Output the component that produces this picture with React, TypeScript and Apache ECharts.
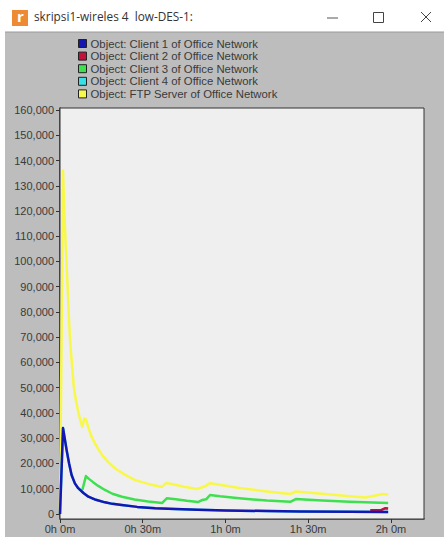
import React, { useEffect, useRef } from "react";
import * as echarts from "echarts";

const yTicks = [0, 10000, 20000, 30000, 40000, 50000, 60000, 70000, 80000, 90000, 100000, 110000, 120000, 130000, 140000, 150000, 160000];
const xTicks = [0, 30, 60, 90, 120];
const xTickLabels: Record<number, string> = { 0: "0h 0m", 30: "0h 30m", 60: "1h 0m", 90: "1h 30m", 120: "2h 0m" };

const ftpTimes = [0, 1.1, 1.5, 2, 2.8, 3.3, 3.7, 4.5, 5, 5.7, 6.7, 7.4, 8.1, 8.8, 9.4, 10.5, 11.5, 12.7, 14, 15.5, 17.5, 20, 23.5, 27, 32, 37, 38.5, 41, 45, 49.7, 51, 52.5, 54.4, 58, 65, 75, 83.5, 85.5, 95, 105, 110.7, 114, 117, 119];
const ftpValues = [0, 136000, 122000, 108000, 89000, 76000, 68000, 57000, 50500, 45500, 40000, 37000, 34500, 37800, 37500, 33500, 30500, 28000, 25500, 23000, 20500, 18000, 15600, 13500, 11900, 10700, 12300, 11800, 10800, 9900, 10400, 10900, 12200, 11600, 10300, 8900, 7900, 8900, 8000, 7000, 6500, 7200, 7900, 7700];

const client3Times = [8.1, 9.4, 10.5, 12, 14, 16.3, 19, 22.5, 27, 32, 37, 38.7, 42, 46, 50, 51.5, 53, 54.4, 58, 65, 75, 83.5, 85.5, 95, 105, 119];
const client3Values = [9500, 15000, 13900, 12600, 11000, 9500, 8000, 6800, 5700, 4900, 4300, 6200, 5800, 5200, 4700, 5500, 5800, 7500, 7000, 6200, 5300, 4800, 5900, 5300, 4800, 4300];

const client1Times = [0, 1.1, 1.4, 1.8, 2.4, 3.3, 4.2, 5.4, 6.6, 8.5, 10.3, 13, 16.3, 19, 22.4, 28, 34.5, 41.7, 50, 60, 75, 87, 105, 119];
const client1Values = [0, 34000, 32000, 29300, 25300, 20000, 15400, 12100, 10200, 8300, 6850, 5600, 4600, 4000, 3560, 2800, 2300, 2000, 1700, 1400, 1150, 1000, 850, 800];

const client2Times = [112.5, 114, 116.4, 118, 119];
const client2Values = [1500, 1500, 1500, 2300, 2200];

const client4Times = client1Times;
const client4Values = client1Values;

const zip = (t: number[], v: number[]) => t.map((x, i) => [x, v[i]]);

const FONT = "'Liberation Sans', Arial, sans-serif";
const WIN_FONT = "'Open Sans', 'Noto Sans', sans-serif";

const seriesDefs = [
  { name: "Object: Client 1 of Office Network", color: "#1616b0", times: client1Times, values: client1Values, z: 6 },
  { name: "Object: Client 2 of Office Network", color: "#c4103c", times: client2Times, values: client2Values, z: 5 },
  { name: "Object: Client 3 of Office Network", color: "#3fe04f", times: client3Times, values: client3Values, z: 4 },
  { name: "Object: Client 4 of Office Network", color: "#38e0e8", times: client4Times, values: client4Values, z: 3 },
  { name: "Object: FTP Server of Office Network", color: "#f8f84a", times: ftpTimes, values: ftpValues, z: 2 },
];

export default function App() {
  const ref = useRef<HTMLDivElement>(null);
  useEffect(() => {
    const chart = echarts.init(ref.current!, undefined, { renderer: "svg" });
    chart.setOption({
      animation: false,
      backgroundColor: "#ffffff",
      textStyle: { fontFamily: FONT },
      grid: { left: 60, top: 108, width: 364, height: 411, show: true, backgroundColor: "#efefef", borderColor: "#333333", borderWidth: 1, z: 1 },
      legend: {
        show: true,
        orient: "vertical",
        left: 78,
        top: 38,
        itemWidth: 8,
        itemHeight: 8,
        itemGap: 1.6,
        padding: 0,
        z: 3,
        selectedMode: false,
        icon: "rect",
        textStyle: { fontFamily: FONT, fontSize: 11.35, color: "#3a3a3a", padding: [0, 0, 0, -1] },
        data: seriesDefs.map((s) => ({ name: s.name, itemStyle: { color: s.color, borderColor: "#222222", borderWidth: 1 } })),
      },
      xAxis: {
        type: "value",
        min: 0,
        max: 132,
        axisLine: { show: true, onZero: false, lineStyle: { color: "#6a6a6a", width: 2 } },
        axisTick: { show: true, length: 4, customValues: xTicks, lineStyle: { color: "#333333" } },
        minorTick: { show: false },
        splitLine: { show: false },
        axisLabel: {
          customValues: xTicks,
          formatter: (v: number) => xTickLabels[v] ?? "",
          color: "#3a3a3a",
          fontSize: 11,
          fontFamily: FONT,
          margin: 4,
        },
      },
      yAxis: {
        type: "value",
        min: -2000,
        max: 160800,
        axisLine: { show: true, onZero: false, lineStyle: { color: "#333333", width: 1.5 } },
        axisTick: { show: true, length: 4, customValues: yTicks, lineStyle: { color: "#333333" } },
        splitLine: { show: true, lineStyle: { color: "#dedede", width: 1 } },
        axisLabel: {
          customValues: yTicks,
          formatter: (v: number) => v.toLocaleString("en-US"),
          color: "#3a3a3a",
          fontSize: 11,
          fontFamily: FONT,
          margin: 6,
        },
      },
      series: seriesDefs.map((s) => ({
        name: s.name,
        type: "line",
        z: s.z,
        showSymbol: false,
        symbol: "none",
        clip: true,
        lineStyle: { color: s.color, width: 2.5, join: "round" },
        itemStyle: { color: s.color },
        data: zip(s.times, s.values),
      })),
      graphic: [
        { type: "rect", z: -10, silent: true, shape: { x: 5, y: 32, width: 439, height: 505 }, style: { fill: "#bdbdbd" } },
        { type: "line", z: -9, silent: true, shape: { x1: 5, y1: 32, x2: 444, y2: 32 }, style: { stroke: "#9a9a9a", lineWidth: 1 } },
        { type: "rect", z: 5, silent: true, shape: { x: 12, y: 10, width: 16, height: 16 }, style: { fill: "#ee8a34" } },
        { type: "text", z: 6, silent: true, x: 17, y: 8, style: { text: "r", fill: "#ffffff", font: "bold 15px " + WIN_FONT } },
        { type: "text", z: 6, silent: true, x: 34, y: 10, style: { text: "skripsi1-wireles 4  low-DES-1:", fill: "#333333", font: "11.8px " + WIN_FONT } },
        { type: "line", z: 6, silent: true, shape: { x1: 327, y1: 18, x2: 338, y2: 18 }, style: { stroke: "#555555", lineWidth: 1 } },
        { type: "rect", z: 6, silent: true, shape: { x: 373.5, y: 12.5, width: 10, height: 10 }, style: { fill: "none", stroke: "#444444", lineWidth: 1 } },
        { type: "line", z: 6, silent: true, shape: { x1: 421, y1: 12, x2: 431, y2: 22 }, style: { stroke: "#444444", lineWidth: 1 } },
        { type: "line", z: 6, silent: true, shape: { x1: 431, y1: 12, x2: 421, y2: 22 }, style: { stroke: "#444444", lineWidth: 1 } },
      ],
    });
    return () => chart.dispose();
  }, []);
  return <div ref={ref} style={{ position: "absolute", left: 0, top: 0, width: 444, height: 538 }} />;
}
